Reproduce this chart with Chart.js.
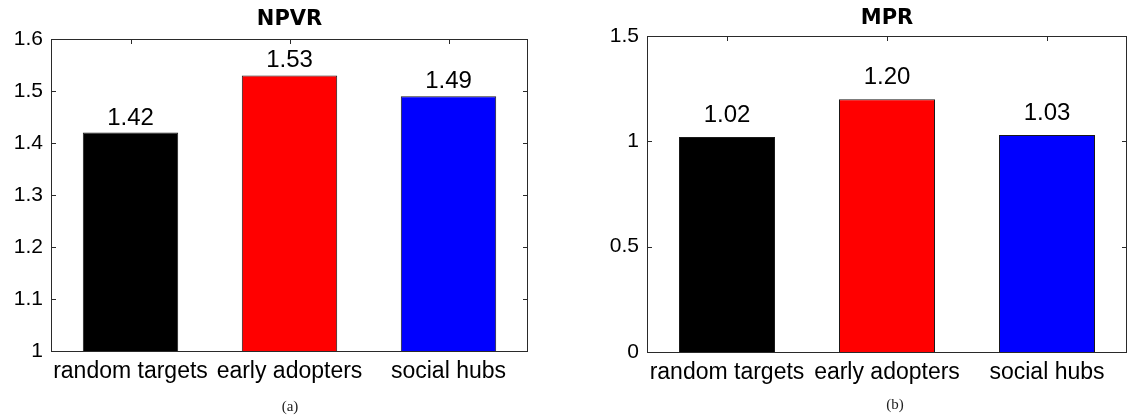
<!DOCTYPE html>
<html>
<head>
<meta charset="utf-8">
<script src="https://cdn.jsdelivr.net/npm/chart.js@4/dist/chart.umd.min.js"></script>
<style>
  html, body { margin: 0; padding: 0; background: #fff; }
  #wrap { position: relative; width: 1134px; height: 419px; overflow: hidden; }
  .panel { position: absolute; top: 0; width: 567px; height: 419px; }
  .caption { position: absolute; font-family: "Liberation Serif", "DejaVu Serif", serif; font-size: 15px; color: #222; transform: translateX(-50%); }
</style>
</head>
<body>
<div id="wrap">
  <div class="panel" style="left:0"><canvas id="npvr" width="567" height="419"></canvas></div>
  <div class="panel" style="left:567px"><canvas id="mpr" width="567" height="419"></canvas></div>
  <div class="caption" style="left:290px; top:398px">(a)</div>
  <div class="caption" style="left:895px; top:396px">(b)</div>
</div>
<script>
// Targeting strategies compared in both panels
const categories = ['random targets', 'early adopters', 'social hubs'];
// Net present value ratio per strategy
const npvrValues = [1.42, 1.53, 1.49];
// MPR per strategy
const mprValues = [1.02, 1.20, 1.03];
// Value-axis tick labels
const npvrTicks = [1, 1.1, 1.2, 1.3, 1.4, 1.5, 1.6];
const mprTicks = [0, 0.5, 1, 1.5];
// Bar fill colours, one per strategy
const barColors = ['#000000', '#ff0000', '#0000ff'];

const FONT = '"Liberation Sans", Arial, sans-serif';

// Boxed axes with inward tick marks on all four sides
const frameTicks = {
  id: 'frameTicks',
  beforeDatasetsDraw(chart) {
    const { ctx, chartArea: a, scales } = chart;
    const len = 5;
    ctx.save();
    ctx.strokeStyle = '#2a2a2a';
    ctx.lineWidth = 1;
    ctx.beginPath();
    scales.y.ticks.forEach((t, i) => {
      const y = Math.round(scales.y.getPixelForTick(i)) + 0.5;
      ctx.moveTo(a.left, y); ctx.lineTo(a.left + len, y);
      ctx.moveTo(a.right, y); ctx.lineTo(a.right - len, y);
    });
    scales.x.ticks.forEach((t, i) => {
      const x = Math.round(scales.x.getPixelForValue(i)) + 0.5;
      ctx.moveTo(x, a.top); ctx.lineTo(x, a.top + len);
      ctx.moveTo(x, a.bottom); ctx.lineTo(x, a.bottom - len);
    });
    ctx.stroke();
    ctx.restore();
  },
  afterDatasetsDraw(chart) {
    const { ctx, chartArea: a } = chart;
    ctx.save();
    ctx.strokeStyle = '#2a2a2a';
    ctx.lineWidth = 1;
    ctx.strokeRect(Math.round(a.left) + 0.5, Math.round(a.top) + 0.5,
                   Math.round(a.right - a.left) - 1, Math.round(a.bottom - a.top));
    ctx.restore();
  }
};

// Numeric value printed above each bar
const valueLabels = {
  id: 'valueLabels',
  afterDatasetsDraw(chart, args, opts) {
    const { ctx } = chart;
    const meta = chart.getDatasetMeta(0);
    const data = chart.data.datasets[0].data;
    ctx.save();
    ctx.font = '24px ' + FONT;
    ctx.fillStyle = '#000';
    ctx.textAlign = 'center';
    ctx.textBaseline = 'alphabetic';
    meta.data.forEach((bar, i) => {
      ctx.fillText(data[i].toFixed(2), bar.x, bar.y - opts.gap);
    });
    ctx.restore();
  }
};

// Panel heading centred over the plot box
const boxTitle = {
  id: 'boxTitle',
  afterDraw(chart, args, opts) {
    const { ctx, chartArea: a } = chart;
    ctx.save();
    ctx.font = 'bold 21px "DejaVu Sans", sans-serif';
    ctx.fillStyle = '#000';
    ctx.textAlign = 'center';
    ctx.textBaseline = 'alphabetic';
    ctx.fillText(opts.text, (a.left + a.right) / 2, opts.baseline);
    ctx.restore();
  }
};

function makeChart(id, title, values, ticks, lay) {
  return new Chart(document.getElementById(id), {
    type: 'bar',
    data: {
      labels: categories,
      datasets: [{
        data: values,
        backgroundColor: barColors,
        borderColor: '#1a1a1a',
        borderWidth: 1,
        barPercentage: 0.6,
        categoryPercentage: 1.0
      }]
    },
    options: {
      responsive: false,
      animation: false,
      devicePixelRatio: 1,
      layout: { padding: { left: 0, right: lay.padRight, top: lay.top, bottom: 0 } },
      plugins: {
        legend: { display: false },
        tooltip: { enabled: false },
        title: { display: false },
        boxTitle: { text: title, baseline: lay.titleBaseline },
        valueLabels: { gap: lay.labelGap }
      },
      scales: {
        x: {
          offset: true,
          grid: { display: false, drawTicks: false },
          border: { display: false },
          ticks: { color: '#000', font: { family: FONT, size: 23 }, padding: lay.xPad, maxRotation: 0, autoSkip: false },
          afterFit(s) { s.height = lay.xHeight; }
        },
        y: {
          min: ticks[0],
          max: ticks[ticks.length - 1],
          grid: { display: false, drawTicks: false },
          border: { display: false },
          afterBuildTicks(s) { s.ticks = ticks.map(v => ({ value: v })); },
          ticks: { color: '#000', font: { family: FONT, size: 21 }, padding: 8, callback: v => String(v) },
          afterFit(s) { s.width = lay.yWidth; }
        }
      }
    },
    plugins: [frameTicks, valueLabels, boxTitle]
  });
}

makeChart('npvr', 'NPVR', npvrValues, npvrTicks,
  { padRight: 39, top: 39, titleBaseline: 25, yWidth: 51, xHeight: 68, xPad: 7, labelGap: 8 });
makeChart('mpr', 'MPR', mprValues, mprTicks,
  { padRight: 7, top: 36, titleBaseline: 24, yWidth: 80, xHeight: 67, xPad: 7, labelGap: 15 });
</script>
</body>
</html>
